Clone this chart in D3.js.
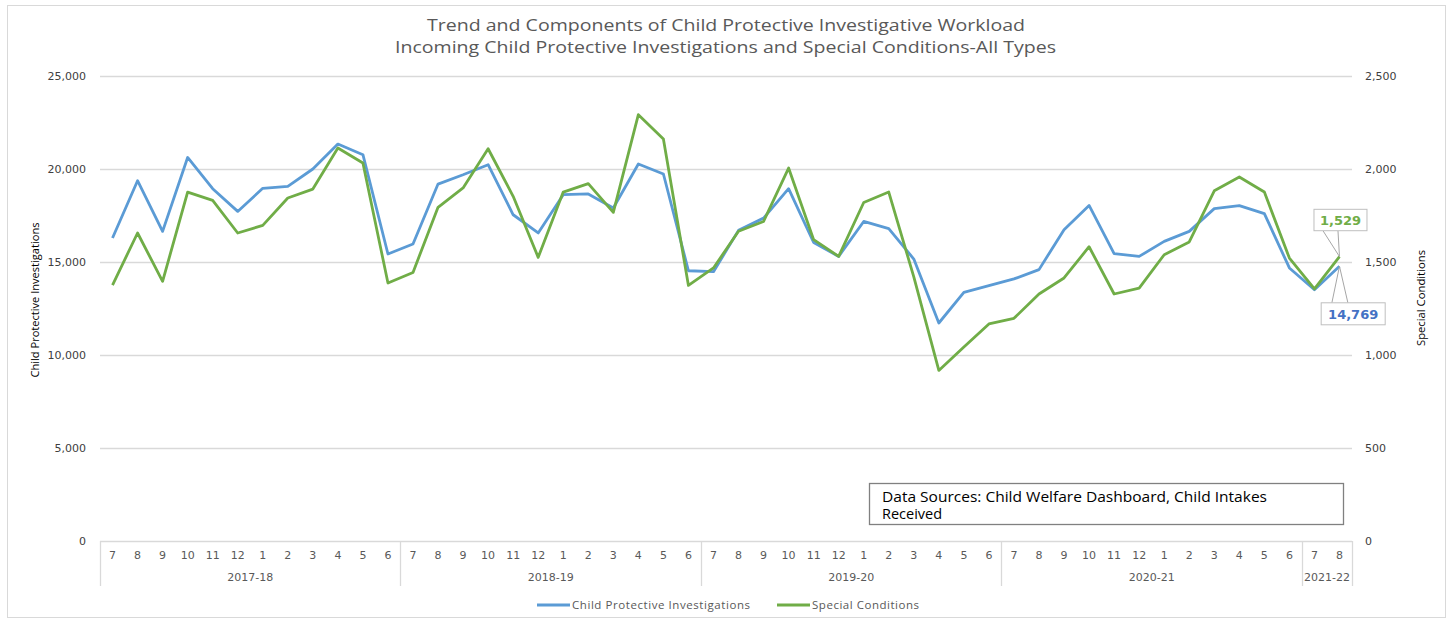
<!DOCTYPE html>
<html>
<head>
<meta charset="utf-8">
<script src="https://cdn.jsdelivr.net/npm/d3@7"></script>
<style>
  body { margin: 0; background: #fff; }
  svg { display: block; }
</style>
</head>
<body>
<svg id="chart" width="1449" height="621"></svg>
<script>
var width = 1449;
var height = 621;

// month of the fiscal year, one per point
var monthLabels = [
  "7","8","9","10","11","12","1","2","3","4","5","6",
  "7","8","9","10","11","12","1","2","3","4","5","6",
  "7","8","9","10","11","12","1","2","3","4","5","6",
  "7","8","9","10","11","12","1","2","3","4","5","6",
  "7","8"
];
var yearLabels = ["2017-18", "2018-19", "2019-20", "2020-21", "2021-22"];
var yearSpans = [12, 12, 12, 12, 2];

// Child Protective Investigations (left axis)
var investigations = [
  16290, 19370, 16645, 20620, 18940, 17720, 18960, 19070, 20000, 21340, 20770, 15430,
  15970, 19190, 19690, 20230, 17540, 16560, 18620, 18660, 17900, 20270, 19730, 14530,
  14480, 16700, 17360, 18940, 16050, 15300, 17180, 16790, 15160, 11720, 13370, 13730,
  14090, 14590, 16740, 18040, 15450, 15300, 16110, 16645, 17870, 18030, 17600, 14680,
  13510, 14769
];

// Special Conditions (right axis)
var specialConditions = [
  1376, 1656, 1396, 1876, 1831, 1656, 1697, 1844, 1892, 2113, 2032, 1387,
  1444, 1794, 1898, 2109, 1853, 1525, 1876, 1921, 1767, 2292, 2161, 1374,
  1468, 1665, 1718, 2005, 1620, 1530, 1820, 1876, 1420, 917, 1043, 1167,
  1197, 1328, 1414, 1582, 1328, 1360, 1539, 1608, 1883, 1957, 1876, 1521,
  1355, 1529
];

var leftTicks = [0, 5000, 10000, 15000, 20000, 25000];
var rightTicks = [0, 500, 1000, 1500, 2000, 2500];

var blue = "#5B9BD5";
var green = "#70AD47";
var grid = "#d9d9d9";
var textGray = "#595959";

var plot = { left: 100, right: 1352, top: 76, bottom: 541 };

var svg = d3.select("#chart");

// outer chart border
svg.append("rect")
    .attr("x", 7.5).attr("y", 5.5)
    .attr("width", 1438).attr("height", 612)
    .attr("fill", "#fff")
    .attr("stroke", grid);

var x = d3.scaleBand()
    .domain(d3.range(monthLabels.length))
    .range([plot.left, plot.right]);

var yLeft = d3.scaleLinear().domain([0, 25000]).range([plot.bottom, plot.top]);
var yRight = d3.scaleLinear().domain([0, 2500]).range([plot.bottom, plot.top]);

function cx(i) { return x(i) + x.bandwidth() / 2; }

// title
var title = svg.append("g")
    .attr("font-family", "'Open Sans', sans-serif")
    .attr("font-size", 17)
    .attr("fill", textGray)
    .attr("text-anchor", "middle");
title.append("text").attr("x", 726).attr("y", 31)
    .attr("textLength", 598).attr("lengthAdjust", "spacingAndGlyphs")
    .text("Trend and Components of Child Protective Investigative Workload");
title.append("text").attr("x", 725.5).attr("y", 53)
    .attr("textLength", 661).attr("lengthAdjust", "spacingAndGlyphs")
    .text("Incoming Child Protective Investigations and Special Conditions-All Types");

// gridlines
svg.append("g")
    .selectAll("line")
    .data(leftTicks)
    .enter()
    .append("line")
    .attr("x1", plot.left).attr("x2", plot.right)
    .attr("y1", function(d) { return Math.round(yLeft(d)) + 0.5; })
    .attr("y2", function(d) { return Math.round(yLeft(d)) + 0.5; })
    .attr("stroke", grid)
    .attr("stroke-width", 1.3);

// left axis labels
var leftAxis = svg.append("g")
    .attr("transform", "translate(" + plot.left + ",0)")
    .call(d3.axisLeft(yLeft).tickValues(leftTicks).tickSize(0).tickPadding(14).tickFormat(d3.format(",")));
leftAxis.select(".domain").remove();
leftAxis.selectAll("text")
    .attr("font-family", "'DejaVu Sans', sans-serif")
    .attr("font-size", 11)
    .attr("fill", "#404040");

// right axis labels
var rightAxis = svg.append("g")
    .attr("transform", "translate(" + plot.right + ",0)")
    .call(d3.axisRight(yRight).tickValues(rightTicks).tickSize(0).tickPadding(13).tickFormat(d3.format(",")));
rightAxis.select(".domain").remove();
rightAxis.selectAll("text")
    .attr("font-family", "'DejaVu Sans', sans-serif")
    .attr("font-size", 11)
    .attr("fill", "#404040");

// axis titles
svg.append("text")
    .attr("transform", "translate(39,300) rotate(-90)")
    .attr("text-anchor", "middle")
    .attr("font-family", "'Open Sans', sans-serif")
    .attr("font-size", 10.5)
    .attr("fill", "#000")
    .attr("textLength", 155).attr("lengthAdjust", "spacingAndGlyphs")
    .text("Child Protective Investigations");

svg.append("text")
    .attr("transform", "translate(1425,298) rotate(-90)")
    .attr("text-anchor", "middle")
    .attr("font-family", "'Open Sans', sans-serif")
    .attr("font-size", 10.5)
    .attr("fill", "#000")
    .attr("textLength", 96).attr("lengthAdjust", "spacingAndGlyphs")
    .text("Special Conditions");

// month labels
var monthAxis = svg.append("g")
    .attr("transform", "translate(0," + plot.bottom + ")")
    .call(d3.axisBottom(x).tickSize(0).tickPadding(10).tickFormat(function(i) { return monthLabels[i]; }));
monthAxis.select(".domain").remove();
monthAxis.selectAll("text")
    .attr("font-family", "'DejaVu Sans', sans-serif")
    .attr("font-size", 11)
    .attr("fill", textGray);

// fiscal year groups
var groups = [];
var start = 0;
yearLabels.forEach(function(label, k) {
    groups.push({ label: label, start: start, end: start + yearSpans[k] - 1 });
    start += yearSpans[k];
});

var yearG = svg.append("g");
yearG.selectAll("line")
    .data(groups)
    .enter()
    .append("line")
    .attr("x1", function(d) { return Math.round(x(d.start)) + 0.5; })
    .attr("x2", function(d) { return Math.round(x(d.start)) + 0.5; })
    .attr("y1", plot.bottom).attr("y2", 586)
    .attr("stroke", grid).attr("stroke-width", 1.3);
yearG.append("line")
    .attr("x1", plot.right + 0.5).attr("x2", plot.right + 0.5)
    .attr("y1", plot.bottom).attr("y2", 586)
    .attr("stroke", grid).attr("stroke-width", 1.3);
yearG.selectAll("text")
    .data(groups)
    .enter()
    .append("text")
    .attr("x", function(d) { return (x(d.start) + x(d.end) + x.bandwidth()) / 2; })
    .attr("y", 581)
    .attr("text-anchor", "middle")
    .attr("font-family", "'DejaVu Sans', sans-serif")
    .attr("font-size", 11)
    .attr("fill", textGray)
    .text(function(d) { return d.label; });

// lines
var lineLeft = d3.line()
    .x(function(d, i) { return cx(i); })
    .y(function(d) { return yLeft(d); });
var lineRight = d3.line()
    .x(function(d, i) { return cx(i); })
    .y(function(d) { return yRight(d); });

svg.append("path")
    .datum(investigations)
    .attr("d", lineLeft)
    .attr("fill", "none")
    .attr("stroke", blue)
    .attr("stroke-width", 2.8)
    .attr("stroke-linejoin", "round");

svg.append("path")
    .datum(specialConditions)
    .attr("d", lineRight)
    .attr("fill", "none")
    .attr("stroke", green)
    .attr("stroke-width", 2.8)
    .attr("stroke-linejoin", "round");

// callouts on the last point
var last = monthLabels.length - 1;
function callout(px, py, dx, dy, w, h, legs, text, color) {
    var bx = px + dx - w / 2;
    var by = py + dy - h / 2;
    var g = svg.append("g");
    var edge = dy < 0 ? by + h : by;
    legs.forEach(function(l) {
        g.append("line")
            .attr("x1", bx + l).attr("y1", edge)
            .attr("x2", px).attr("y2", py)
            .attr("stroke", "#a6a6a6").attr("stroke-width", 1);
    });
    g.append("rect")
        .attr("x", bx).attr("y", by)
        .attr("width", w).attr("height", h)
        .attr("fill", "#fff")
        .attr("stroke", "#bfbfbf");
    g.append("text")
        .attr("x", bx + w / 2).attr("y", by + h / 2 + 5)
        .attr("text-anchor", "middle")
        .attr("font-family", "'DejaVu Sans', sans-serif")
        .attr("font-weight", "bold")
        .attr("font-size", 13)
        .attr("fill", color)
        .text(text);
}
callout(cx(last), yRight(specialConditions[last]), 1, -36.6, 53, 21.4, [9, 24],
    d3.format(",")(specialConditions[last]), green);
callout(cx(last), yLeft(investigations[last]), 13.7, 47.5, 64, 22, [10.7, 26.7],
    d3.format(",")(investigations[last]), "#4472C4");

// data source note
var note = svg.append("g")
    .attr("font-family", "'Open Sans', sans-serif")
    .attr("font-size", 14.5)
    .attr("fill", "#000");
note.append("rect")
    .attr("x", 869.5).attr("y", 483.5)
    .attr("width", 474).attr("height", 41)
    .attr("fill", "#fff")
    .attr("stroke", "#808080")
    .attr("stroke-width", 1.3);
note.append("text")
    .attr("x", 882).attr("y", 501.5)
    .attr("textLength", 385).attr("lengthAdjust", "spacingAndGlyphs")
    .text("Data Sources: Child Welfare Dashboard, Child Intakes");
note.append("text")
    .attr("x", 882).attr("y", 518.5)
    .text("Received");

// legend
var legendItems = [
    { name: "Child Protective Investigations", color: blue, x: 537, w: 178 },
    { name: "Special Conditions", color: green, x: 777, w: 107 }
];
var legend = svg.append("g").selectAll("g")
    .data(legendItems)
    .enter()
    .append("g")
    .attr("transform", function(d) { return "translate(" + d.x + ",605)"; });
legend.append("line")
    .attr("x1", 0).attr("x2", 33)
    .attr("stroke", function(d) { return d.color; })
    .attr("stroke-width", 2.8);
legend.append("text")
    .attr("x", 35).attr("y", 4)
    .attr("font-family", "'Open Sans', sans-serif")
    .attr("font-size", 11.5)
    .attr("fill", textGray)
    .attr("textLength", function(d) { return d.w; })
    .attr("lengthAdjust", "spacing")
    .text(function(d) { return d.name; });
</script>
</body>
</html>
